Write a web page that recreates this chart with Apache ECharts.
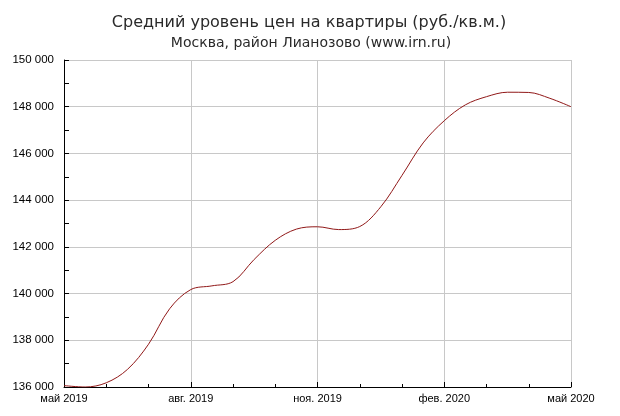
<!DOCTYPE html>
<html><head><meta charset="utf-8">
<script src="https://cdn.jsdelivr.net/npm/echarts@6/dist/echarts.min.js"></script>
<style>html,body{margin:0;padding:0;background:#fff}#c{width:620px;height:416px}</style>
</head><body><div id="c"></div>
<script>
// month offsets from май 2019 (half-month steps)
var months = [0,0.5,1,1.5,2,2.5,3,3.5,4,4.5,5,5.5,6,6.5,7,7.5,8,8.5,9,9.5,10,10.5,11,11.5,12];
var prices = [136060,136000,136180,136750,137830,139350,140170,140330,140510,141460,142280,142760,142860,142740,142870,143720,145060,146450,147400,148080,148430,148620,148610,148360,148000];
var xLabels = ['май 2019','авг. 2019','ноя. 2019','фев. 2020','май 2020'];
var titleText = 'Средний уровень цен на квартиры (руб./кв.м.)';
var subText = 'Москва, район Лианозово (www.irn.ru)';

var data = months.map(function(m,i){return [m, prices[i]];});
var chart = echarts.init(document.getElementById('c'), null, {renderer:'canvas'});
var font = 'Liberation Sans, Arial, sans-serif';
var tfont = 'DejaVu Sans, Verdana, sans-serif';
chart.setOption({
  animation:false,
  backgroundColor:'#fff',
  title:[
    {text:titleText, left:304, top:10, textAlign:'center', textStyle:{fontFamily:tfont, fontSize:16, fontWeight:'normal', color:'#2a2a2a'}},
    {text:subText, left:306, top:31, textAlign:'center', textStyle:{fontFamily:tfont, fontSize:14, fontWeight:'normal', color:'#2a2a2a'}}
  ],
  grid:{left:64, right:49, top:60, bottom:29},
  xAxis:{
    type:'value', min:0, max:12, interval:3,
    axisLine:{show:true, onZero:false, lineStyle:{color:'#000', width:1}},
    axisTick:{show:true, inside:true, length:5, lineStyle:{color:'#000'}},
    minorTick:{show:true, splitNumber:3, length:3, lineStyle:{color:'#000'}},
    splitLine:{show:true, lineStyle:{color:'#c8c8c8', width:1}},
    axisLabel:{margin:6, fontFamily:font, fontSize:11, color:'#000',
      formatter:function(v){return xLabels[Math.round(v/3)] || '';}}
  },
  yAxis:{
    type:'value', min:136000, max:150000, interval:2000,
    axisLine:{show:true, lineStyle:{color:'#000', width:1}},
    axisTick:{show:true, inside:true, length:5, lineStyle:{color:'#000'}},
    minorTick:{show:true, splitNumber:2, length:5, lineStyle:{color:'#000'}},
    splitLine:{show:true, lineStyle:{color:'#c8c8c8', width:1}},
    axisLabel:{margin:10, fontFamily:font, fontSize:11.5, color:'#000',
      formatter:function(v){return String(v).replace(/(\d)(\d{3})$/, '$1 $2');}}
  },
  series:[{
    type:'line', data:data, smooth:0.35, smoothConstraint:false, showSymbol:false,
    lineStyle:{color:'#901818', width:1}
  }]
});
</script></body></html>
